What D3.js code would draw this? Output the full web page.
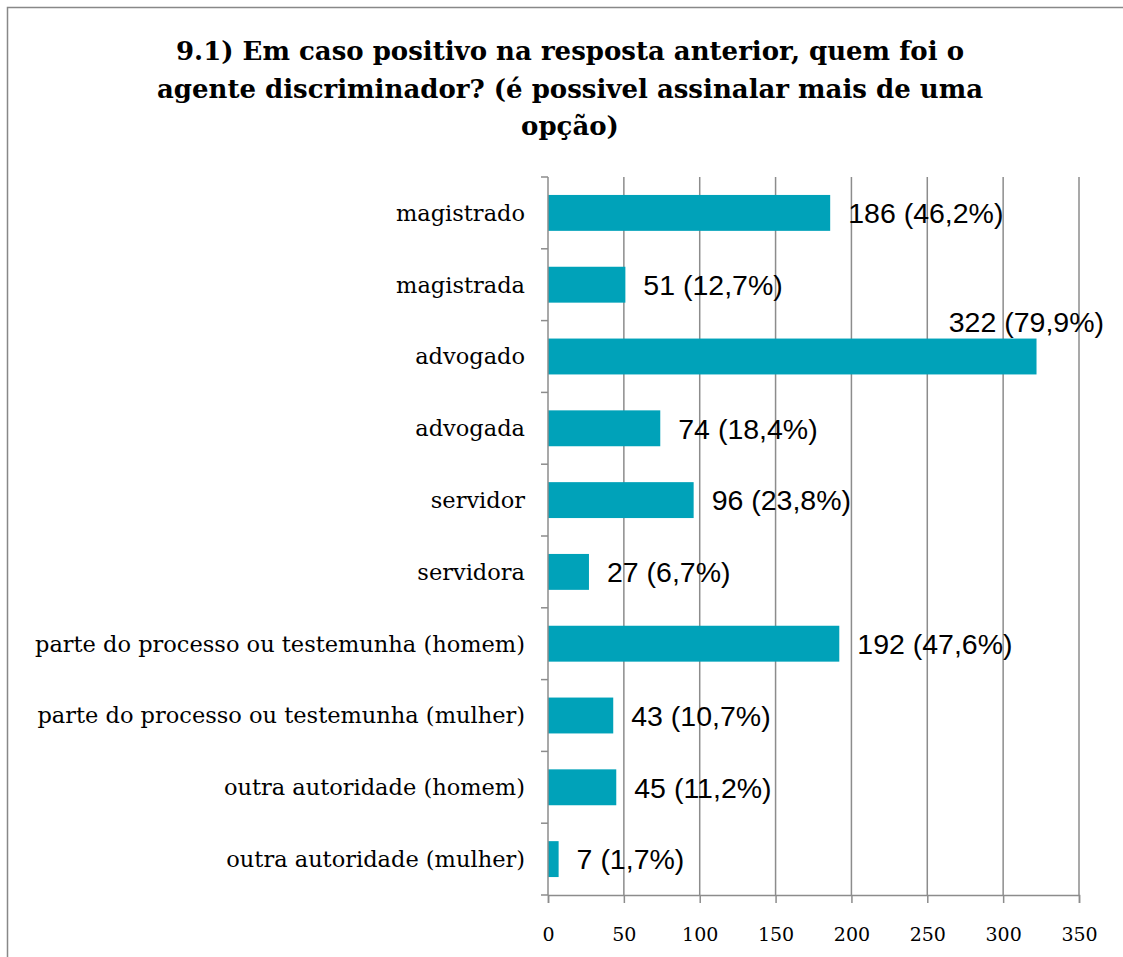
<!DOCTYPE html>
<html>
<head>
<meta charset="utf-8">
<script src="https://cdn.jsdelivr.net/npm/d3@7"></script>
<style>
  body { margin: 0; background: #fff; }
  svg { display: block; }
</style>
</head>
<body>
<div id="my_dataviz"></div>
<script>
// data
var categories = ["magistrado", "magistrada", "advogado", "advogada", "servidor", "servidora",
  "parte do processo ou testemunha (homem)", "parte do processo ou testemunha (mulher)",
  "outra autoridade (homem)", "outra autoridade (mulher)"];
var counts = [186, 51, 322, 74, 96, 27, 192, 43, 45, 7];
var percents = ["46,2%", "12,7%", "79,9%", "18,4%", "23,8%", "6,7%", "47,6%", "10,7%", "11,2%", "1,7%"];
var xTicks = [0, 50, 100, 150, 200, 250, 300, 350];
var titleLines = ["9.1) Em caso positivo na resposta anterior, quem foi o",
  "agente discriminador? (é possivel assinalar mais de uma",
  "opção)"];

var width = 1123, height = 957;
var margin = {top: 177, left: 548, right: 44, bottom: 62};

var svg = d3.select("#my_dataviz")
  .append("svg")
    .attr("width", width)
    .attr("height", height);

// chart border (runs off the right / bottom edge)
svg.append("rect")
  .attr("x", 7.5).attr("y", 7.5)
  .attr("width", width + 20).attr("height", height + 20)
  .attr("fill", "none")
  .attr("stroke", "#888")
  .attr("stroke-width", 1.5);

// title
svg.append("text")
  .attr("text-anchor", "middle")
  .style("font-family", "'DejaVu Serif', serif")
  .style("font-weight", "bold")
  .style("font-size", "26px")
  .selectAll("tspan")
  .data(titleLines).enter()
  .append("tspan")
    .attr("x", 570)
    .attr("y", function(d, i) { return 60 + i * 37.5; })
    .text(function(d) { return d; });

var x = d3.scaleLinear()
  .domain([0, 350])
  .range([margin.left, width - margin.right]);

var y = d3.scaleBand()
  .domain(categories)
  .range([margin.top, height - margin.bottom])
  .paddingInner(0.5)
  .paddingOuter(0.25);

var plotBottom = height - margin.bottom;

// vertical gridlines
svg.append("g")
  .selectAll("line")
  .data(xTicks.slice(1)).enter()
  .append("line")
    .attr("x1", function(d) { return x(d); })
    .attr("x2", function(d) { return x(d); })
    .attr("y1", margin.top)
    .attr("y2", plotBottom)
    .attr("stroke", "#8c8c8c")
    .attr("stroke-width", 1.5);

// bars
svg.append("g")
  .selectAll("rect")
  .data(counts).enter()
  .append("rect")
    .attr("x", x(0))
    .attr("y", function(d, i) { return y(categories[i]); })
    .attr("width", function(d) { return x(d) - x(0); })
    .attr("height", y.bandwidth())
    .attr("fill", "#00A2B9");

// x axis
var xAxis = svg.append("g")
  .attr("transform", "translate(0," + plotBottom + ")")
  .call(d3.axisBottom(x).tickValues(xTicks).tickSize(8).tickPadding(25));
xAxis.select(".domain").attr("stroke", "#8c8c8c").attr("stroke-width", 1.5);
xAxis.selectAll(".tick line").attr("stroke", "#8c8c8c").attr("stroke-width", 1.5);
xAxis.selectAll(".tick text")
  .style("font-family", "'DejaVu Serif', serif")
  .style("font-size", "19px")
  .attr("fill", "#000");

// y axis: ticks sit on category boundaries, so draw them by hand
var yAxis = svg.append("g").attr("transform", "translate(" + x(0) + ",0)");
yAxis.append("line")
  .attr("y1", margin.top).attr("y2", plotBottom)
  .attr("stroke", "#8c8c8c").attr("stroke-width", 1.5);
var bounds = d3.range(categories.length + 1).map(function(i) { return margin.top + i * (plotBottom - margin.top) / categories.length; });
yAxis.selectAll(".yt")
  .data(bounds).enter()
  .append("line")
    .attr("x1", -7).attr("x2", 0)
    .attr("y1", function(d) { return d; })
    .attr("y2", function(d) { return d; })
    .attr("stroke", "#8c8c8c").attr("stroke-width", 1.5);

// category labels
svg.append("g")
  .selectAll("text")
  .data(categories).enter()
  .append("text")
    .attr("x", 525)
    .attr("y", function(d) { return y(d) + y.bandwidth() / 2; })
    .attr("dy", "0.35em")
    .attr("text-anchor", "end")
    .style("font-family", "'DejaVu Serif', serif")
    .style("font-size", "22.5px")
    .text(function(d) { return d; });

// value labels
var labelRight = 1104;
svg.append("g")
  .selectAll("text")
  .data(counts).enter()
  .append("text")
    .attr("x", function(d) { return x(d) + 18; })
    .attr("y", function(d, i) { return y(categories[i]) + y.bandwidth() / 2; })
    .attr("dy", "0.36em")
    .style("font-family", "'Liberation Sans', Arial, sans-serif")
    .style("font-size", "28.5px")
    .attr("fill", "#000")
    .text(function(d, i) { return d + " (" + percents[i] + ")"; })
    .each(function(d, i) {
      var w = this.getComputedTextLength();
      if (x(d) + 18 + w > labelRight) {
        d3.select(this)
          .attr("x", labelRight - w)
          .attr("y", y(categories[i]) - y.bandwidth() / 2 + 1);
      }
    });
</script>
</body>
</html>
